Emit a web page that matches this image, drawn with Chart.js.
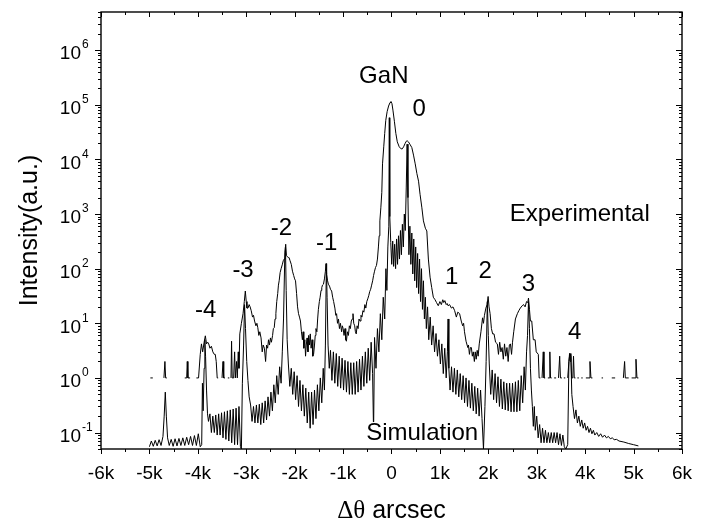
<!DOCTYPE html>
<html><head><meta charset="utf-8">
<script src="https://cdn.jsdelivr.net/npm/chart.js@4/dist/chart.umd.min.js"></script>
<style>html,body{margin:0;padding:0;background:#fff}#wrap{width:705px;height:527px}</style>
</head><body><div id="wrap"><canvas id="c" width="705" height="527"></canvas></div>
<script>
// ---------- DATA ----------
// Simulation curve: [delta-theta (arcsec), intensity]
const simulation = [
[-5000,0.055],[-4960,0.07],[-4920,0.056],[-4880,0.072],[-4840,0.057],[-4800,0.074],[-4760,0.058],[-4720,0.085],[-4695,0.2],[-4672,0.55],
[-4650,0.2],[-4625,0.08],[-4590,0.058],[-4550,0.075],[-4510,0.056],[-4470,0.077],[-4430,0.057],[-4390,0.078],[-4350,0.058],[-4310,0.08],
[-4270,0.058],[-4230,0.082],[-4190,0.06],[-4150,0.085],[-4110,0.058],[-4070,0.088],[-4030,0.058],[-3990,0.095],[-3950,0.055],[-3920,0.06],
[-3905,0.8],[-3890,0.25],[-3870,1.5],[-3855,5],[-3840,2.5],[-3820,0.6],[-3800,0.22],[-3780,0.16],[-3750,0.22],[-3720,0.1],
[-3690,0.2],[-3660,0.1],[-3630,0.21],[-3600,0.09],[-3570,0.22],[-3540,0.09],[-3510,0.23],[-3480,0.08],[-3450,0.24],[-3420,0.075],
[-3390,0.25],[-3360,0.07],[-3330,0.26],[-3300,0.065],[-3270,0.27],[-3240,0.06],[-3210,0.28],[-3180,0.06],[-3150,0.3],[-3120,0.055],
[-3100,0.05],[-3080,0.8],[-3055,4],[-3035,22],[-3015,8],[-2990,2],[-2965,0.9],[-2940,0.45],[-2910,0.32],[-2880,0.16],
[-2850,0.3],[-2820,0.15],[-2790,0.32],[-2760,0.15],[-2730,0.33],[-2700,0.14],[-2670,0.35],[-2640,0.15],[-2610,0.38],[-2580,0.17],
[-2550,0.45],[-2520,0.2],[-2490,0.55],[-2460,0.25],[-2430,0.75],[-2400,0.35],[-2370,1.1],[-2340,0.5],[-2310,1.6],[-2280,0.8],
[-2255,3],[-2230,12],[-2205,150],[-2190,250],[-2175,40],[-2155,5],[-2130,1.8],[-2100,0.7],[-2070,1.5],[-2040,0.5],
[-2010,1.3],[-1980,0.4],[-1950,1.1],[-1920,0.3],[-1890,0.9],[-1860,0.25],[-1830,0.75],[-1800,0.2],[-1770,0.65],[-1740,0.15],
[-1710,0.55],[-1680,0.12],[-1650,0.55],[-1620,0.14],[-1590,0.6],[-1560,0.18],[-1530,0.75],[-1500,0.25],[-1470,1.0],[-1440,0.35],
[-1410,1.5],[-1385,0.6],[-1365,4],[-1345,120],[-1330,30],[-1310,4],[-1285,1.5],[-1260,3.2],[-1230,0.9],[-1200,3],
[-1170,0.8],[-1140,2.8],[-1110,0.7],[-1080,2.5],[-1050,0.65],[-1020,2.3],[-990,0.6],[-960,2.1],[-930,0.55],[-900,2],
[-870,0.5],[-840,1.9],[-810,0.5],[-780,1.9],[-750,0.5],[-720,2],[-690,0.55],[-660,2.2],[-630,0.6],[-600,2.5],
[-570,0.7],[-540,3],[-510,0.8],[-480,3.5],[-450,0.9],[-420,4.5],[-390,1.2],[-370,0.1],[-350,5.5],[-320,1.5],
[-290,8],[-260,3],[-230,15],[-200,5],[-170,30],[-140,12],[-115,100],[-95,40],[-75,250],[-55,600],
[-45,58000],[-35,900],[-15,300],[5,120],[25,320],[45,110],[65,280],[85,100],[105,350],[125,120],
[145,400],[165,150],[185,500],[205,180],[225,650],[245,250],[265,1000],[285,500],[305,3000],[323,19000],
[340,2000],[360,180],[380,600],[400,120],[420,450],[440,80],[460,350],[480,60],[500,250],[520,45],
[540,190],[560,35],[580,150],[600,25],[620,100],[640,18],[660,60],[680,12],[700,30],[720,8],
[745,20],[770,5],[800,13],[830,4],[860,9],[890,3],[920,6.5],[950,2.5],[980,5],[1010,1.8],
[1040,4.2],[1070,1.2],[1100,3.5],[1130,1],[1155,3],[1169,12],[1185,1.5],[1210,0.6],[1240,1.6],[1270,0.55],
[1300,1.5],[1330,0.5],[1360,1.4],[1390,0.45],[1420,1.2],[1450,0.4],[1480,1.1],[1510,0.35],[1540,1.0],[1570,0.3],
[1600,0.9],[1630,0.28],[1660,0.8],[1690,0.25],[1720,0.7],[1750,0.22],[1780,0.65],[1810,0.2],[1840,0.6],[1870,0.18],
[1900,0.05],[1930,0.3],[1955,2],[1980,25],[2000,6],[2020,1.8],[2050,0.5],[2080,1.4],[2110,0.4],[2140,1.2],
[2170,0.35],[2200,1.05],[2230,0.3],[2260,0.95],[2290,0.27],[2320,0.85],[2350,0.26],[2380,0.8],[2410,0.25],[2440,0.8],
[2470,0.24],[2500,0.8],[2530,0.24],[2560,0.85],[2590,0.24],[2620,0.9],[2650,0.25],[2680,1.1],[2710,0.35],[2740,1.6],
[2765,0.6],[2790,3],[2810,6],[2830,25],[2850,8],[2870,1.5],[2890,0.6],[2910,0.3],[2930,0.13],[2950,0.3],
[2970,0.11],[3000,0.2],[3030,0.08],[3060,0.14],[3090,0.065],[3120,0.12],[3150,0.065],[3180,0.11],[3210,0.065],[3240,0.1],
[3270,0.065],[3300,0.1],[3330,0.065],[3360,0.1],[3390,0.065],[3420,0.1],[3450,0.06],[3480,0.095],[3510,0.058],[3540,0.09],
[3570,0.055],[3600,0.05],[3640,0.06],[3665,2],[3685,2.8],[3705,2.5],[3725,0.5],[3750,0.3],[3780,0.18],[3810,0.26],
[3840,0.15],[3870,0.2],[3900,0.13],[3930,0.17],[3960,0.12],[3990,0.15],[4020,0.11],[4050,0.13],[4080,0.1],[4110,0.12],
[4140,0.095],[4170,0.11],[4200,0.09],[4240,0.1],[4280,0.085],[4320,0.095],[4360,0.082],[4400,0.09],[4440,0.08],[4480,0.085],
[4520,0.077],[4560,0.08],[4600,0.074],[4650,0.075],[4700,0.07],[4800,0.067],[4900,0.063],[5000,0.06],[5100,0.057]
];
// Experimental curve: [delta-theta (arcsec), counts]; null = zero counts (not drawn on log axis)
const experimental = [
[-4980,1],[-4930,1],[-4910,null],
[-4700,1],[-4680,2],[-4665,1],[-4640,1],[-4620,null],
[-4270,1],[-4230,1],[-4218,2],[-4205,1],[-4160,1],[-4140,null],
[-4120,1],[-4100,1],[-4080,null],
[-4030,1],[-3985,1],[-3950,2.7],[-3925,4.2],[-3900,3],[-3870,4.5],[-3845,5.9],[-3820,4.2],[-3795,4.5],[-3775,4.2],
[-3750,3.5],[-3720,3.8],[-3690,3],[-3660,2.7],[-3640,2.7],[-3620,2],[-3600,1],[-3580,1],[-3560,null],
[-3500,1],[-3480,2],[-3465,1],[-3440,1],[-3420,null],
[-3380,1],[-3350,1],[-3330,null],
[-3315,1],[-3303,4.7],[-3290,1],[-3260,1],[-3240,3],[-3225,1],[-3200,2],[-3185,1],[-3165,3],[-3150,1.5],
[-3133,6.4],[-3100,10],[-3066,15],[-3040,25],[-3019,39],[-3000,25],[-2985,19],[-2964,19],[-2940,22],[-2920,20],
[-2897,17],[-2870,13],[-2850,14],[-2828,11],[-2800,9],[-2780,10],[-2761,8.3],[-2740,6],[-2720,7],[-2694,5.4],
[-2670,3],[-2650,4],[-2625,3.5],[-2600,2],[-2580,4],[-2558,3.5],[-2540,5],[-2520,4],[-2500,5.4],[-2480,4.5],
[-2456,6],[-2440,8],[-2422,8.3],[-2405,12],[-2388,15],[-2370,25],[-2350,35],[-2335,50],[-2320,60],[-2300,85],
[-2280,100],[-2253,121],[-2235,140],[-2215,150],[-2200,200],[-2185,280],[-2170,175],[-2150,165],[-2130,160],[-2116,160],
[-2095,140],[-2070,120],[-2045,90],[-2020,75],[-2000,65],[-1982,60],[-1960,35],[-1940,20],[-1920,15],[-1900,13],
[-1880,11],[-1860,7],[-1840,5],[-1825,7],[-1811,3.5],[-1790,5],[-1775,2.5],[-1760,4],[-1744,5.4],[-1725,3],
[-1710,6],[-1695,4],[-1677,6.4],[-1660,3.5],[-1640,5],[-1625,2.5],[-1609,2.7],[-1590,4],[-1575,6],[-1560,8],
[-1541,7],[-1525,12],[-1510,18],[-1490,25],[-1474,30],[-1455,40],[-1440,45],[-1425,50],[-1405,52],[-1385,65],
[-1365,90],[-1352,124],[-1340,80],[-1320,60],[-1303,52],[-1280,48],[-1260,42],[-1236,39],[-1215,30],[-1195,25],
[-1169,19],[-1150,14],[-1134,15],[-1115,10],[-1095,12],[-1075,8],[-1055,10],[-1030,7],[-1015,9],[-998,8],
[-980,6],[-960,8],[-945,5],[-931,4.7],[-910,7],[-890,6],[-870,9],[-850,8],[-830,11],[-810,12],
[-795,15],[-780,10],[-760,9],[-745,7],[-728,6.4],[-710,9],[-690,8],[-670,12],[-650,11],[-630,14],
[-610,13],[-590,17],[-570,16],[-550,22],[-530,19],[-510,25],[-490,28],[-470,32],[-450,38],[-430,42],
[-410,50],[-389,60],[-370,75],[-350,90],[-330,105],[-310,115],[-290,150],[-270,250],[-254,400],[-240,750],
[-220,1300],[-200,2500],[-185,8300],[-160,17000],[-140,30000],[-118,52000],[-90,75000],[-60,95000],[-30,110000],[-10,115000],
[10,105000],[30,80000],[60,50000],[90,30000],[120,21000],[160,17000],[200,15600],[222,15600],[250,17000],[280,19500],
[305,21500],[323,22000],[350,21000],[380,19000],[420,16500],[455,12000],[490,8300],[525,5500],[559,4000],[590,2300],
[628,1300],[660,750],[700,550],[730,490],[762,150],[797,70],[831,45],[864,30],[900,27],[930,24],
[966,21],[1000,25],[1030,22],[1060,27],[1080,24],[1102,26],[1130,22],[1150,23],[1169,21],[1200,22],
[1238,19],[1270,20],[1305,17],[1340,13],[1370,16],[1407,15],[1441,11],[1470,9],[1490,10],[1508,7],
[1540,4.7],[1576,3.6],[1590,4],[1610,2.7],[1630,3.6],[1650,3.6],[1670,2.5],[1690,3],[1712,2],[1730,3],
[1750,2.2],[1770,3.2],[1790,2.5],[1813,4.2],[1848,7],[1881,12.6],[1900,10],[1920,14],[1950,19],[1975,22],
[1996,31],[2015,20],[2037,15],[2064,8],[2090,6.4],[2118,6.4],[2150,4.5],[2186,4.2],[2210,2.7],[2235,4.5],
[2260,3],[2285,3.6],[2310,2.2],[2335,4.2],[2360,2.5],[2385,3.6],[2410,2],[2435,4],[2457,4.2],[2480,2.7],
[2500,4.5],[2525,7],[2560,12],[2600,15],[2630,17],[2661,19],[2700,21],[2729,22],[2760,20],[2790,25],
[2815,24],[2830,29],[2850,18],[2870,11],[2897,11],[2930,5],[2966,5],[2990,3],[3033,2.7],[3050,1],
[3075,1],[3090,null],
[3110,1],[3135,3],[3150,1],[3175,1],[3190,null],
[3230,1],[3260,1],[3271,3],[3285,1],[3310,1],[3325,null],
[3360,1],[3400,1],[3415,null],
[3450,1],[3474,2.5],[3490,1],[3520,1],[3535,null],
[3560,1],[3590,1],[3610,null],
[3640,1],[3665,2],[3678,2.8],[3690,2],[3705,2.8],[3720,1],[3745,1],[3760,2.5],[3775,1],[3800,1],[3815,null],
[3840,1],[3870,1],[3885,null],
[3920,1],[3950,1],[3965,null],
[4015,1],[4080,1],[4100,2],[4120,1],[4151,1],[4170,null],
[4340,1],[4370,1],[4385,null],
[4550,1],[4620,1],[4640,null],
[4790,1],[4815,2],[4830,1],[4900,1],[4920,null],
[4960,1],[5030,1],[5050,2.2],[5070,1],[5100,1]
];
const xTickValues = [-6000,-5000,-4000,-3000,-2000,-1000,0,1000,2000,3000,4000,5000,6000];
const xTickLabels = ['-6k','-5k','-4k','-3k','-2k','-1k','0','1k','2k','3k','4k','5k','6k'];
const yTickValues = [0.1,1,10,100,1000,10000,100000,1000000];
const yTickExponents = ['-1','0','1','2','3','4','5','6'];
// peak labels: text and anchor in data coordinates
const peakLabels = ['GaN','0','-1','-2','-3','-4','1','2','3','4','Experimental','Simulation'];
const peakLabelX = [-159,573,-1338,-2273,-3066,-3838,1244,1935,2830,3786,3888,634];
const peakLabelY = [326000,81000,285,536,95,16.9,67.9,91,52.7,6.96,967,0.098];

// ---------- CHART ----------
const SANS = '"Liberation Sans", Arial, Helvetica, sans-serif';
const SERIF = '"Liberation Serif", "Times New Roman", serif';

const decor = {
  id: 'decor',
  afterDatasetsDraw(chart) {
    const {ctx} = chart;
    const xs = chart.scales.x, ys = chart.scales.y;
    ctx.save();
    ctx.fillStyle = '#000';
    ctx.textAlign = 'center';
    ctx.textBaseline = 'middle';
    ctx.font = '24px ' + SANS;
    peakLabels.forEach((t, i) => {
      const px = xs.getPixelForValue(peakLabelX[i]);
      const py = ys.getPixelForValue(peakLabelY[i]);
      if (t === 'Simulation') {
        const w = ctx.measureText(t).width;
        ctx.fillStyle = '#fff';
        ctx.fillRect(px - w / 2 - 1, py - 11, w + 2, 21);
        ctx.fillStyle = '#000';
      }
      ctx.fillText(t, px, py);
    });
    ctx.restore();
  },
  afterDraw(chart) {
    const {ctx, chartArea: a} = chart;
    const xs = chart.scales.x, ys = chart.scales.y;
    ctx.save();
    ctx.strokeStyle = '#000';
    ctx.fillStyle = '#000';
    ctx.lineWidth = 1.4;
    const L = Math.round(a.left), R = Math.round(a.right), T = Math.round(a.top), B = Math.round(a.bottom);
    ctx.strokeRect(L, T, R - L, B - T);
    ctx.lineWidth = 1;
    ctx.beginPath();
    // x ticks every 500, major at 1000
    for (let v = -6000; v <= 6000; v += 500) {
      const p = Math.round(xs.getPixelForValue(v)) + 0.5;
      const len = (v % 1000 === 0) ? 5 : 3;
      ctx.moveTo(p, B); ctx.lineTo(p, B + len);
      ctx.moveTo(p, T); ctx.lineTo(p, T + len);
    }
    // y ticks: decades major, 2..9 minor
    for (let d = -2; d <= 6; d++) {
      for (let m = 1; m <= 9; m++) {
        const v = m * Math.pow(10, d);
        if (v < ys.min * 0.999 || v > ys.max * 1.001) continue;
        const p = Math.round(ys.getPixelForValue(v)) + 0.5;
        const len = m === 1 ? 6 : 3;
        ctx.moveTo(L - len, p); ctx.lineTo(L, p);
        ctx.moveTo(R, p); ctx.lineTo(R - len, p);
      }
    }
    ctx.stroke();
    // y tick labels 10^n
    yTickValues.forEach((v, i) => {
      const p = ys.getPixelForValue(v);
      ctx.font = '19px ' + SANS;
      ctx.textAlign = 'right';
      ctx.textBaseline = 'middle';
      ctx.fillText('10', 81, p + 4);
      ctx.font = '12px ' + SANS;
      ctx.textAlign = 'left';
      ctx.fillText(yTickExponents[i], 82, p - 5);
    });
    // axis titles
    ctx.font = '25px ' + SANS;
    ctx.textAlign = 'center';
    ctx.textBaseline = 'middle';
    ctx.save();
    ctx.translate(30, (a.top + a.bottom) / 2);
    ctx.rotate(-Math.PI / 2);
    ctx.fillText('Intensity(a.u.)', 0, 0);
    ctx.restore();
    const part1 = '\u0394\u03B8', part2 = ' arcsec';
    ctx.font = '25px ' + SERIF;
    const w1 = ctx.measureText(part1).width;
    ctx.font = '25px ' + SANS;
    const w2 = ctx.measureText(part2).width;
    const cx = (a.left + a.right) / 2;
    let sx = cx - (w1 + w2) / 2;
    ctx.textAlign = 'left';
    ctx.textBaseline = 'alphabetic';
    ctx.font = '25px ' + SERIF;
    ctx.fillText(part1, sx, 518);
    ctx.font = '25px ' + SANS;
    ctx.fillText(part2, sx + w1, 518);
    ctx.restore();
  }
};

new Chart(document.getElementById('c'), {
  type: 'scatter',
  data: {
    datasets: [
      {
        label: 'Simulation',
        data: simulation.map(p => ({x: p[0], y: p[1]})),
        showLine: true, borderColor: '#000', borderWidth: 1, pointRadius: 0, tension: 0, spanGaps: false
      },
      {
        label: 'Experimental',
        data: experimental.map(p => ({x: p[0], y: p[1]})),
        showLine: true, borderColor: '#000', borderWidth: 1, pointRadius: 0, tension: 0, spanGaps: false
      }
    ]
  },
  options: {
    responsive: false,
    animation: false,
    devicePixelRatio: 1,
    layout: {padding: {top: 12, right: 14, left: 0, bottom: 0}},
    plugins: {legend: {display: false}, tooltip: {enabled: false}},
    scales: {
      x: {
        type: 'linear', min: -6000, max: 6000,
        afterBuildTicks: s => { s.ticks = xTickValues.map(v => ({value: v})); },
        afterFit: s => { s.height = 78; },
        ticks: {
          color: '#000', padding: 13, maxRotation: 0, autoSkip: false,
          font: {family: SANS, size: 19},
          callback: (v, i) => xTickLabels[i]
        },
        grid: {display: false, drawTicks: false},
        border: {display: false}
      },
      y: {
        type: 'logarithmic', min: 0.05, max: 5000000,
        afterBuildTicks: s => { s.ticks = yTickValues.map(v => ({value: v})); },
        afterFit: s => { s.width = 101; },
        ticks: {display: false},
        grid: {display: false, drawTicks: false},
        border: {display: false}
      }
    }
  },
  plugins: [decor]
});
</script>
</body></html>
